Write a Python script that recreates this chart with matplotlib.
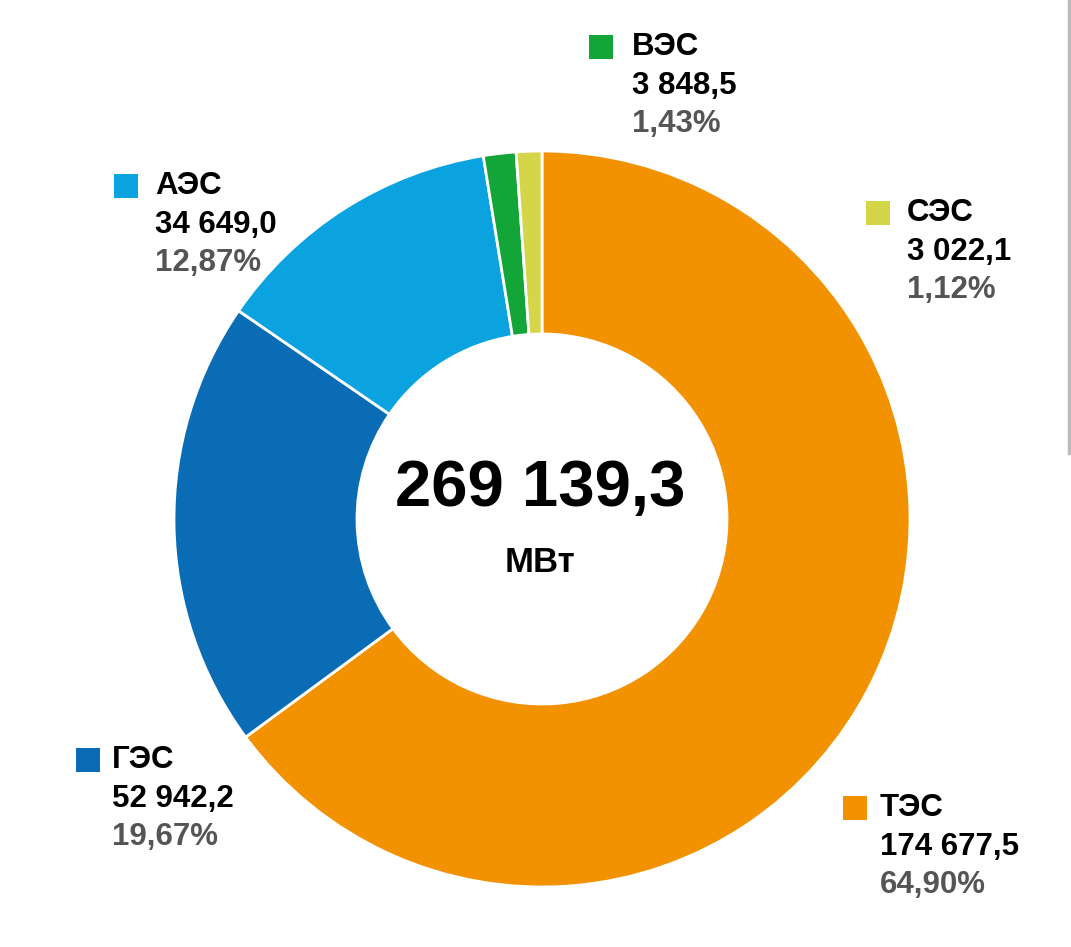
import matplotlib
matplotlib.use("Agg")
import matplotlib.pyplot as plt
from matplotlib.patches import Rectangle

# data
names = ["ТЭС", "ГЭС", "АЭС", "ВЭС", "СЭС"]
values = [174677.5, 52942.2, 34649.0, 3848.5, 3022.1]
shares = [64.90, 19.67, 12.87, 1.43, 1.12]
total = 269139.3
unit = "МВт"
colors = ["#f39200", "#0a6cb5", "#0aa3e0", "#13a538", "#d5d54a"]

# label anchors in pixel coords (square centre x, first line y, text left x)
label_pos = {
    "ТЭС": (855, 808, 880),
    "ГЭС": (88, 760, 112),
    "АЭС": (126, 186, 155),
    "ВЭС": (601, 47, 632),
    "СЭС": (878, 213, 907),
}

W, H = 1071, 947
FONT = ["Liberation Sans", "DejaVu Sans"]


def fmt(v, dec=1):
    s = f"{v:,.{dec}f}"
    return s.replace(",", " ").replace(".", ",")


fig = plt.figure(figsize=(W / 100, H / 100), dpi=100)
ax = fig.add_axes([0, 0, 1, 1])
ax.set_xlim(0, W)
ax.set_ylim(0, H)
ax.set_aspect("equal")
ax.axis("off")

ax.pie(values, colors=colors, startangle=90, counterclock=False,
       center=(542, H - 519), radius=368,
       wedgeprops=dict(width=183, edgecolor="white", linewidth=2))
ax.set_xlim(0, W)
ax.set_ylim(0, H)

ax.text(540, H - 489, fmt(total), ha="center", va="center",
        fontsize=47, fontweight="bold", family=FONT, color="black")
ax.text(540, H - 562, unit, ha="center", va="center",
        fontsize=25, fontweight="bold", family=FONT, color="black")

step = 38.5
for name, v, p, c in zip(names, values, shares, colors):
    sx, y0, tx = label_pos[name]
    ax.add_patch(Rectangle((sx - 12, H - y0 - 12), 24, 24, color=c, lw=0))
    ax.text(tx, H - y0, name, ha="left", va="center", fontsize=22.5,
            fontweight="bold", family=FONT, color="black")
    ax.text(tx, H - y0 - step, fmt(v), ha="left", va="center", fontsize=22.5,
            fontweight="bold", family=FONT, color="black")
    ax.text(tx, H - y0 - 2 * step, fmt(p, 2) + "%", ha="left", va="center",
            fontsize=22.5, fontweight="bold", family=FONT, color="#555555")

# thin grey rule at right edge of the source image
ax.plot([1069, 1069], [H, H - 453], color="#bbbbbb", lw=2.5)

fig.savefig("out.png", dpi=100, facecolor="white")
